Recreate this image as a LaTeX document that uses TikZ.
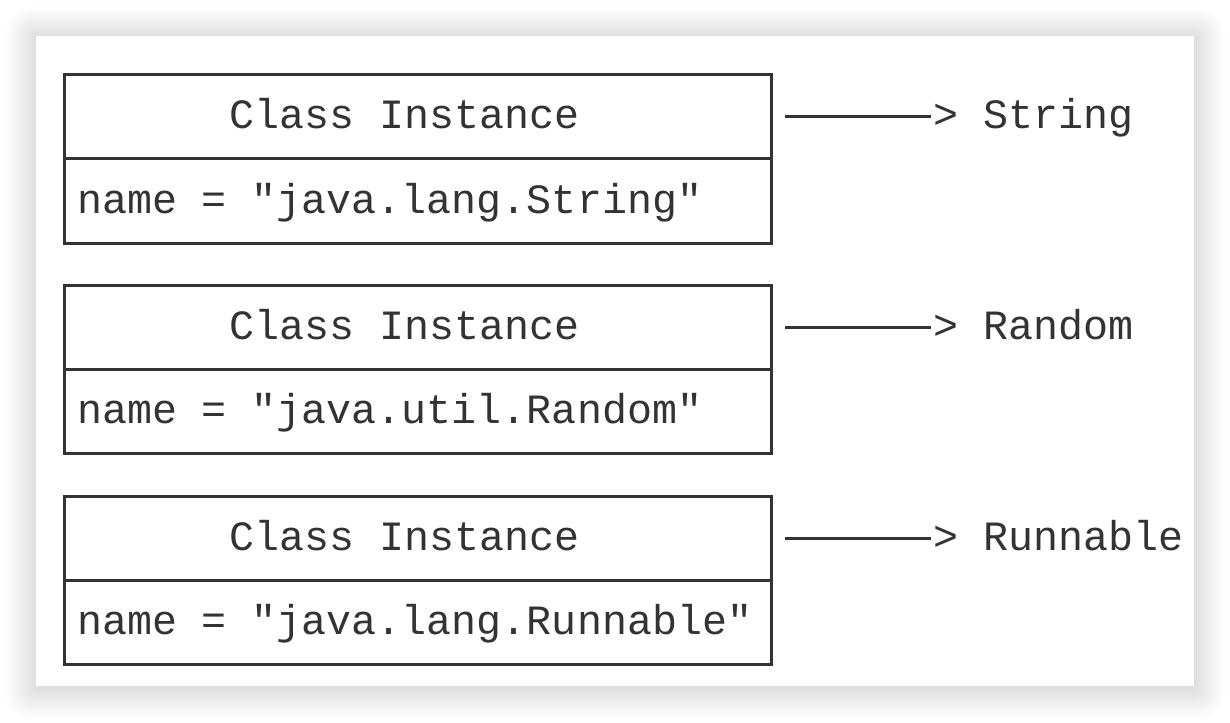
\documentclass[tikz,border=0pt]{standalone}
\usepackage{fontspec}
\setmonofont{Liberation Mono}
\definecolor{ink}{HTML}{333333}
\newcommand\tsp{\hspace*{25pt}}
\begin{document}
\begin{tikzpicture}[x=1pt,y=-1pt,
  font=\ttfamily\fontsize{41.67}{50}\selectfont,
  row/.style={draw=ink,line width=3pt,minimum width=707pt,minimum height=84pt,
    inner xsep=13pt,inner ysep=0pt,text width=681pt,text height=30pt,text depth=6pt,text=ink},
  head/.style={row,align=center},
  field/.style={row,align=left},
  lab/.style={inner sep=0pt,anchor=west,text height=30pt,text depth=6pt,text=ink},
  link/.style={draw=ink,line width=3pt}]
\useasboundingbox (0,0) rectangle (1230,722);
\foreach \k in {32,31,...,1}{
  \fill[black,opacity=0.0042,rounded corners=\k pt] ({36-\k},{36-\k+2}) rectangle ({1194+\k},{686+\k+2});
}
\node[fill=white,minimum width=1158pt,minimum height=650pt,inner sep=0pt]
  (card) at (615,361) {};
\foreach \i/\n/\t in {0/java.lang.String/String,1/java.util.Random/Random,2/java.lang.Runnable/Runnable}{
  \node[head] (h\i) at (417.5,{117+210.5*\i}) {Class\tsp Instance\tsp};
  \node[field] (f\i) at (417.5,{201+210.5*\i}) {name\tsp=\tsp"\n"};
  \node[lab] (l\i) at (933,{117+210.5*\i}) {>\tsp\t};
  \draw[link] ([xshift=12pt]h\i.east) -- ([xshift=-2pt]l\i.west);
}
\end{tikzpicture}
\end{document}
